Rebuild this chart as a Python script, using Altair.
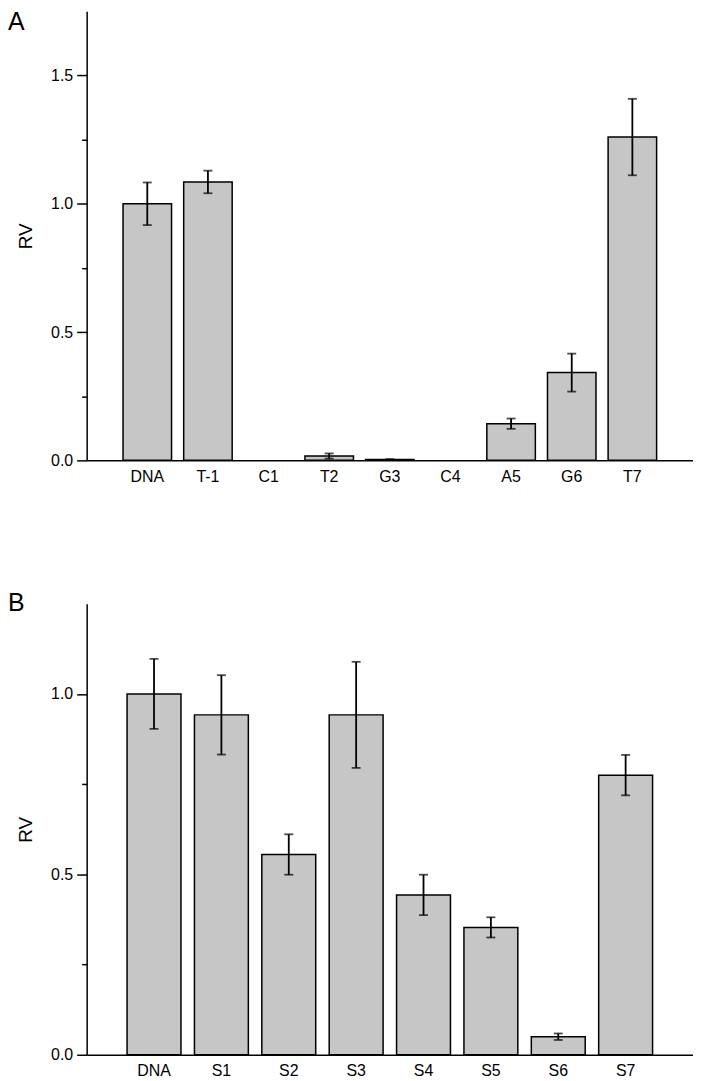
import altair as alt
import pandas as pd

# Panel A data
cats_a = ["DNA", "T-1", "C1", "T2", "G3", "C4", "A5", "G6", "T7"]
vals_a = [1.0, 1.085, 0.0, 0.017, 0.003, 0.0, 0.143, 0.342, 1.26]
errs_a = [0.083, 0.044, 0.0, 0.010, 0.002, 0.0, 0.020, 0.074, 0.149]

# Panel B data
cats_b = ["DNA", "S1", "S2", "S3", "S4", "S5", "S6", "S7"]
vals_b = [1.0, 0.942, 0.555, 0.942, 0.443, 0.353, 0.050, 0.775]
errs_b = [0.097, 0.110, 0.056, 0.147, 0.056, 0.028, 0.009, 0.056]

# y tick values (major every 0.5, minor every 0.25)
ticks_a = [0.0, 0.25, 0.5, 0.75, 1.0, 1.25, 1.5]
ticks_b = [0.0, 0.25, 0.5, 0.75, 1.0]

FONT = "Liberation Sans"
W = 609


def panel(cats, vals, errs, ymax, ticks, height, letter, letter_y):
    df = pd.DataFrame({"cat": cats, "v": vals, "e": errs})
    df["lo"] = df["v"] - df["e"]
    df["hi"] = df["v"] + df["e"]
    dfe = df[df["e"] > 0]

    xs = alt.X("cat:N", sort=cats, title=None,
               scale=alt.Scale(paddingInner=0.2, paddingOuter=0.6),
               axis=alt.Axis(labelAngle=0, ticks=False, tickSize=0, labelPadding=8,
                             labelFont=FONT, labelFontSize=16, labelColor="#000",
                             domainColor="#000", domainWidth=1.5))
    ys = alt.Scale(domain=[0, ymax], nice=False, zero=True)
    yaxis = alt.Axis(values=ticks,
                     labelExpr="datum.value % 0.5 === 0 ? format(datum.value, '.1f') : ''",
                     tickSize={"condition": {"test": "datum.value % 0.5 === 0", "value": 10}, "value": 5},
                     tickColor="#000", tickWidth=1.5, grid=False,
                     domainColor="#000", domainWidth=1.5,
                     labelFont=FONT, labelFontSize=16, labelColor="#000", labelPadding=4,
                     title="RV", titleFont=FONT, titleFontSize=19, titleFontWeight="normal",
                     titleColor="#000", titleX=-51)

    base = alt.Chart(df)
    bars = base.mark_bar(color="#c6c6c6", stroke="#000", strokeWidth=1.5).encode(
        x=xs, y=alt.Y("v:Q", scale=ys, axis=yaxis),
        opacity=alt.condition("datum.v == 0", alt.value(0), alt.value(1)))
    eb = alt.Chart(dfe)
    rule = eb.mark_rule(color="#000", strokeWidth=1.8).encode(
        x=alt.X("cat:N", sort=cats), y="lo:Q", y2="hi:Q")
    cap_lo = eb.mark_tick(color="#000", size=9, thickness=1.8, orient="horizontal").encode(
        x=alt.X("cat:N", sort=cats), y="lo:Q")
    cap_hi = eb.mark_tick(color="#000", size=9, thickness=1.8, orient="horizontal").encode(
        x=alt.X("cat:N", sort=cats), y="hi:Q")
    lab = alt.Chart(pd.DataFrame({"t": [letter]})).mark_text(
        font=FONT, fontSize=25, align="left", baseline="top", color="#000").encode(
        text="t:N", x=alt.value(-79), y=alt.value(letter_y))
    return alt.layer(bars, rule, cap_lo, cap_hi, lab).properties(width=W, height=height)


pa = panel(cats_a, vals_a, errs_a, 1.75, ticks_a, 451, "A", -1)
pb = panel(cats_b, vals_b, errs_b, 1.25, ticks_b, 453, "B", -13)

chart = alt.vconcat(pa, pb, spacing=107).properties(padding=0).configure(
    background="white").configure_view(strokeWidth=0, stroke="transparent")

chart.save("out.html", embed_options={"renderer": "svg", "actions": False})
